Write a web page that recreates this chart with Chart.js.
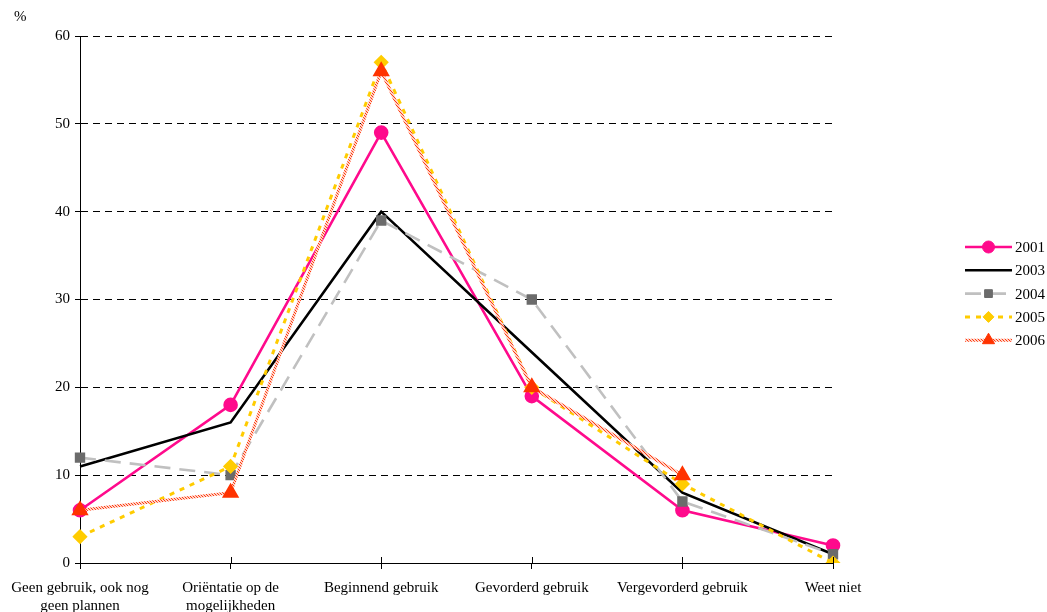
<!DOCTYPE html>
<html>
<head>
<meta charset="utf-8">
<script src="https://cdn.jsdelivr.net/npm/chart.js@4/dist/chart.umd.min.js"></script>
<style>
  html, body { margin: 0; padding: 0; background: #fff; }
  #wrap { width: 1047px; height: 612px; position: relative; }
</style>
</head>
<body>
<div id="wrap"><canvas id="c" width="1047" height="612"></canvas></div>
<script>
// Internetgebruik naar fase, per meetjaar (%)
const categories = [
  ['Geen gebruik, ook nog', 'geen plannen'],
  ['Oriëntatie op de', 'mogelijkheden'],
  'Beginnend gebruik',
  'Gevorderd gebruik',
  'Vergevorderd gebruik',
  'Weet niet'
];
const yTickValues = [0, 10, 20, 30, 40, 50, 60];
const seriesLabels = ['2001', '2003', '2004', '2005', '2006'];
const values2001 = [6, 18, 49, 19, 6, 2];
const values2003 = [11, 16, 40, 24, 8, 1];
const values2004 = [12, 10, 39, 30, 7, 1];
const values2005 = [3, 11, 57, 20, 9, 0];
const values2006 = [6, 8, 56, 20, 10, null];

const FONT = '"Liberation Serif", "Times New Roman", serif';

// hatched red texture for the 2006 line
function stripePattern() {
  const p = document.createElement('canvas');
  p.width = 3; p.height = 3;
  const g = p.getContext('2d');
  g.fillStyle = '#FFD2C6'; g.fillRect(0, 0, 3, 3);
  g.fillStyle = '#FF3A10';
  g.fillRect(0, 0, 1, 1); g.fillRect(1, 1, 1, 1); g.fillRect(2, 2, 1, 1);
  return g.createPattern(p, 'repeat');
}

const datasets = [
  { label: seriesLabels[0], data: values2001, borderColor: '#FF0A8C', backgroundColor: '#FF0A8C',
    borderWidth: 2.6, pointStyle: 'circle', pointRadius: 6, order: 5 },
  { label: seriesLabels[1], data: values2003, borderColor: '#000000', backgroundColor: '#000000',
    borderWidth: 2.6, pointStyle: false, pointRadius: 0, order: 4 },
  { label: seriesLabels[2], data: values2004, borderColor: '#C0C0C0', backgroundColor: '#6B6B6B',
    pointBorderColor: '#6B6B6B', borderWidth: 2.6, borderDash: [16, 9], pointStyle: 'rect', pointRadius: 5.5, order: 3 },
  { label: seriesLabels[3], data: values2005, borderColor: '#FFCC00', backgroundColor: '#FFCC00',
    borderWidth: 3, borderDash: [5, 6], pointStyle: 'rectRot', pointRadius: 5.5, order: 2 },
  { label: seriesLabels[4], data: values2006, borderColor: stripePattern(), backgroundColor: '#FF3300',
    pointBorderColor: '#FF3300', borderWidth: 3, pointStyle: 'triangle', pointRadius: 7, order: 1 }
];

function drawMarker(ctx, style, x, y, r, fill, stroke) {
  ctx.save();
  ctx.setLineDash([]);
  ctx.fillStyle = fill; ctx.strokeStyle = stroke; ctx.lineWidth = 1;
  ctx.beginPath();
  if (style === 'circle') {
    ctx.arc(x, y, r, 0, Math.PI * 2);
  } else if (style === 'rect') {
    const s = Math.SQRT1_2 * r;
    ctx.rect(x - s, y - s, 2 * s, 2 * s);
  } else if (style === 'rectRot') {
    ctx.moveTo(x, y - r); ctx.lineTo(x + r, y); ctx.lineTo(x, y + r); ctx.lineTo(x - r, y); ctx.closePath();
  } else if (style === 'triangle') {
    const h = r * 1.5;
    ctx.moveTo(x, y - h * 2 / 3); ctx.lineTo(x + r * 0.866, y + h / 3); ctx.lineTo(x - r * 0.866, y + h / 3); ctx.closePath();
  } else {
    ctx.restore(); return;
  }
  ctx.fill(); ctx.stroke();
  ctx.restore();
}

// legend with line + marker, plus "%" unit label and inner x tick marks
const decorations = {
  id: 'decorations',
  afterDraw(chart) {
    const ctx = chart.ctx;
    const xs = chart.scales.x;
    const bottom = chart.chartArea.bottom;
    ctx.save();
    ctx.strokeStyle = '#000'; ctx.lineWidth = 1;
    for (let i = 0; i < categories.length; i++) {
      const px = Math.round(xs.getPixelForTick(i)) + 0.5;
      ctx.beginPath(); ctx.moveTo(px, bottom - 6); ctx.lineTo(px, bottom); ctx.stroke();
    }
    ctx.fillStyle = '#000';
    ctx.font = '15px ' + FONT;
    ctx.textBaseline = 'middle'; ctx.textAlign = 'left';
    ctx.fillText('%', 14, 17);

    const x0 = 965, x1 = 1012, yStart = 247, step = 23.3;
    chart.data.datasets.forEach((ds, i) => {
      const y = yStart + i * step;
      ctx.save();
      ctx.strokeStyle = ds.borderColor; ctx.lineWidth = ds.borderWidth;
      ctx.setLineDash(ds.borderDash || []);
      ctx.beginPath(); ctx.moveTo(x0, y); ctx.lineTo(x1, y); ctx.stroke();
      ctx.restore();
      drawMarker(ctx, ds.pointStyle, (x0 + x1) / 2, y, ds.pointRadius,
        ds.backgroundColor, ds.pointBorderColor || ds.backgroundColor);
      ctx.fillStyle = '#000';
      ctx.fillText(ds.label, 1015, y + 1);
    });
    ctx.restore();
  }
};

new Chart(document.getElementById('c'), {
  type: 'line',
  data: { labels: categories, datasets: datasets },
  options: {
    responsive: false,
    animation: false,
    layout: { padding: { top: 36, right: 214, bottom: 0, left: 0 } },
    elements: { line: { tension: 0, fill: false }, point: { borderWidth: 1, hoverRadius: 6 } },
    spanGaps: false,
    plugins: { legend: { display: false }, tooltip: { enabled: false } },
    scales: {
      x: {
        type: 'category',
        offset: false,
        afterFit(scale) { scale.height = 49; },
        grid: { display: true, drawOnChartArea: false, drawTicks: true, tickLength: 6, color: '#000' },
        border: { display: true, color: '#000', width: 1 },
        ticks: { color: '#000', font: { family: FONT, size: 15 }, maxRotation: 0, minRotation: 0, autoSkip: false, padding: 10 }
      },
      y: {
        min: 0, max: 60,
        afterFit(scale) { scale.width = 80; },
        afterBuildTicks(scale) { scale.ticks = yTickValues.map(v => ({ value: v })); },
        grid: { color: '#000', lineWidth: 1, drawTicks: true, tickLength: 5, tickColor: '#000', tickBorderDash: [] },
        border: { display: true, color: '#000', width: 1, dash: [7, 5] },
        ticks: { color: '#000', font: { family: FONT, size: 15 }, padding: 5 }
      }
    }
  },
  plugins: [decorations]
});
</script>
</body>
</html>
